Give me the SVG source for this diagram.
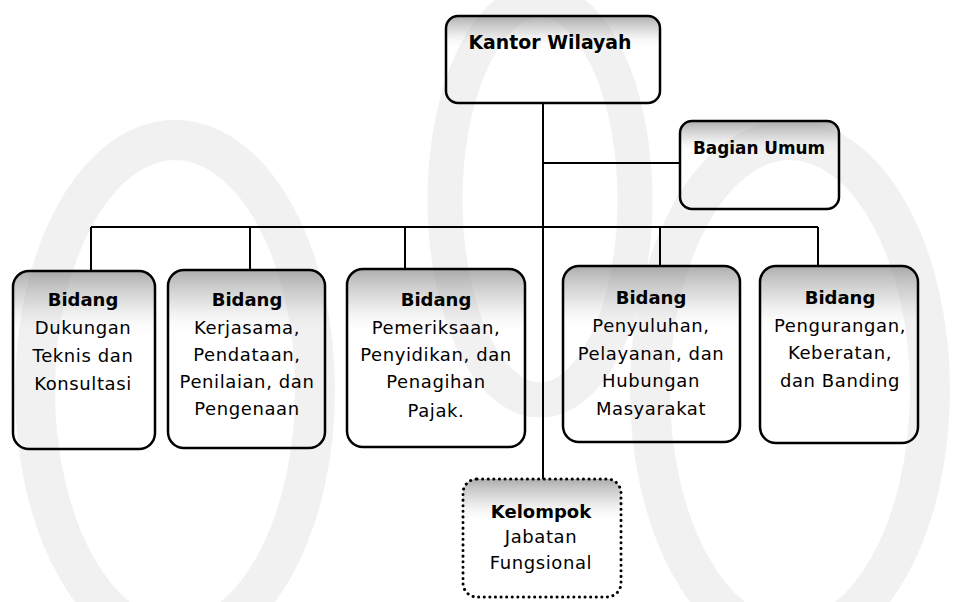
<svg xmlns="http://www.w3.org/2000/svg" width="962" height="602" viewBox="0 0 962 602">
<defs>
<linearGradient id="shade" x1="0" y1="0" x2="0" y2="1">
<stop offset="0" stop-color="#8a8a8a" stop-opacity="0.7"/>
<stop offset="0.18" stop-color="#b5b5b5" stop-opacity="0.4"/>
<stop offset="0.38" stop-color="#ffffff" stop-opacity="0"/>
</linearGradient>
</defs>
<style>
.box{fill:url(#shade);stroke:#000;stroke-width:2.5}
.dot{fill:url(#shade);stroke:#000;stroke-width:3;stroke-dasharray:0.1 5.5;stroke-linecap:round}
.ln{stroke:#000;stroke-width:2;fill:none}
.wm{fill:none;stroke:#f1f1f1}
text{font-family:"DejaVu Sans","Liberation Sans",sans-serif;fill:#000;text-anchor:middle}
.t{font-size:18px;letter-spacing:0.6px}
.b{font-size:18px;font-weight:bold}
.h{font-size:20px;font-weight:bold}
</style>
<rect width="962" height="602" fill="#ffffff"/>
<g id="watermark">
<ellipse class="wm" cx="175" cy="390" rx="140" ry="250" stroke-width="40"/>
<ellipse class="wm" cx="790" cy="390" rx="140" ry="250" stroke-width="40"/>
<ellipse class="wm" cx="540" cy="200" rx="95" ry="200" stroke-width="35"/>
</g>
<g id="connectors">
<line class="ln" x1="543" y1="103" x2="543" y2="479"/>
<line class="ln" x1="543" y1="163" x2="680" y2="163"/>
<line class="ln" x1="91" y1="227" x2="818" y2="227"/>
<line class="ln" x1="91" y1="227" x2="91" y2="271"/>
<line class="ln" x1="250" y1="227" x2="250" y2="270"/>
<line class="ln" x1="405" y1="227" x2="405" y2="269"/>
<line class="ln" x1="660" y1="227" x2="660" y2="266"/>
<line class="ln" x1="818" y1="227" x2="818" y2="266"/>
</g>
<g id="kantor-wilayah">
<rect class="box" x="446" y="16" width="214" height="87" rx="12"/>
<text class="h" x="550" y="49" textLength="163" lengthAdjust="spacingAndGlyphs">Kantor Wilayah</text>
</g>
<g id="bagian-umum">
<rect class="box" x="680" y="121" width="159" height="88" rx="12"/>
<text class="b" x="759" y="154" textLength="132" lengthAdjust="spacingAndGlyphs">Bagian Umum</text>
</g>
<g id="bidang-dukungan">
<rect class="box" x="13" y="271" width="142" height="178" rx="16"/>
<text class="b" x="83" y="306">Bidang</text>
<text class="t" x="83" y="334">Dukungan</text>
<text class="t" x="83" y="362">Teknis dan</text>
<text class="t" x="83" y="390">Konsultasi</text>
</g>
<g id="bidang-kerjasama">
<rect class="box" x="168" y="270" width="157" height="178" rx="16"/>
<text class="b" x="247" y="306">Bidang</text>
<text class="t" x="247" y="334">Kerjasama,</text>
<text class="t" x="247" y="361">Pendataan,</text>
<text class="t" x="247" y="388">Penilaian, dan</text>
<text class="t" x="247" y="415">Pengenaan</text>
</g>
<g id="bidang-pemeriksaan">
<rect class="box" x="347" y="269" width="178" height="178" rx="16"/>
<text class="b" x="436" y="306">Bidang</text>
<text class="t" x="436" y="334">Pemeriksaan,</text>
<text class="t" x="436" y="361">Penyidikan, dan</text>
<text class="t" x="436" y="388">Penagihan</text>
<text class="t" x="436" y="417">Pajak.</text>
</g>
<g id="bidang-penyuluhan">
<rect class="box" x="563" y="266" width="177" height="176" rx="16"/>
<text class="b" x="651" y="304">Bidang</text>
<text class="t" x="651" y="332">Penyuluhan,</text>
<text class="t" x="651" y="360">Pelayanan, dan</text>
<text class="t" x="651" y="387">Hubungan</text>
<text class="t" x="651" y="415">Masyarakat</text>
</g>
<g id="bidang-pengurangan">
<rect class="box" x="760" y="266" width="158" height="177" rx="16"/>
<text class="b" x="840" y="304">Bidang</text>
<text class="t" x="840" y="332">Pengurangan,</text>
<text class="t" x="840" y="359">Keberatan,</text>
<text class="t" x="840" y="387">dan Banding</text>
</g>
<g id="kelompok-jabatan-fungsional">
<rect class="dot" x="463" y="479" width="158" height="118" rx="14"/>
<text class="b" x="541" y="518">Kelompok</text>
<text class="t" x="541" y="543">Jabatan</text>
<text class="t" x="541" y="569">Fungsional</text>
</g>
</svg>
